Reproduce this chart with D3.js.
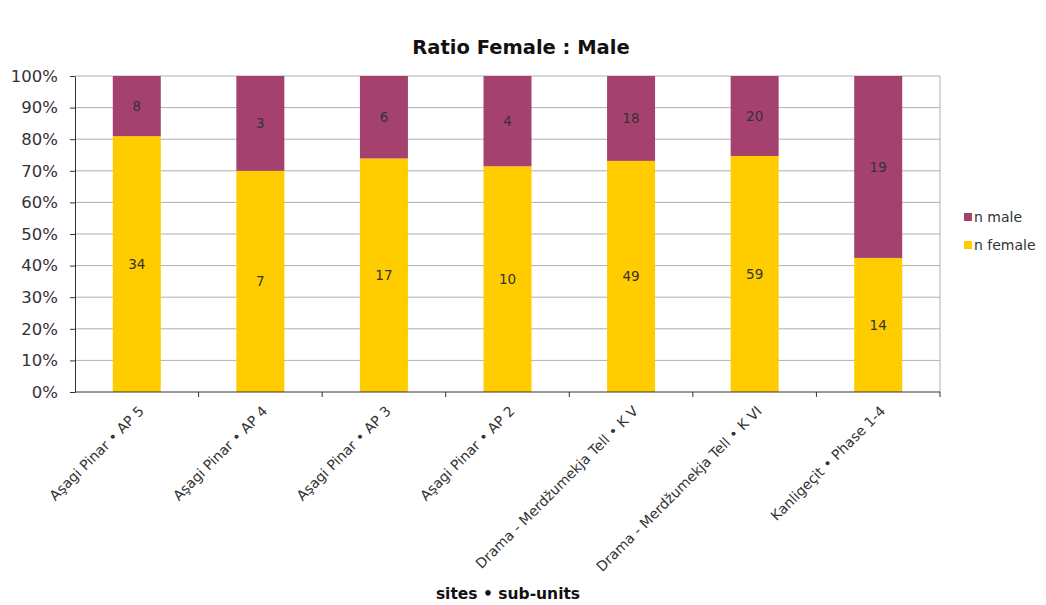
<!DOCTYPE html>
<html>
<head>
<meta charset="utf-8">
<script src="https://cdn.jsdelivr.net/npm/d3@7"></script>
<style>
  body { margin: 0; background: #fff; }
  text { font-family: "DejaVu Sans", Verdana, sans-serif; }
</style>
</head>
<body>
<svg id="chart" width="1046" height="605"></svg>
<script>
// data
const sites = ["Aşagi Pinar • AP 5", "Aşagi Pinar • AP 4", "Aşagi Pinar • AP 3", "Aşagi Pinar • AP 2",
  "Drama - Merdžumekja Tell • K V", "Drama - Merdžumekja Tell • K VI", "Kanligeçit • Phase 1-4"];
const nFemale = [34, 7, 17, 10, 49, 59, 14];
const nMale = [8, 3, 6, 4, 18, 20, 19];
const yTicks = [0, 0.1, 0.2, 0.3, 0.4, 0.5, 0.6, 0.7, 0.8, 0.9, 1];

const svg = d3.select("#chart");
const pLeft = 75, pRight = 940, pTop = 76, pBottom = 392;

let x = d3.scaleBand().domain(sites).range([pLeft, pRight]).paddingInner(0).paddingOuter(0);
let y = d3.scaleLinear().domain([0, 1]).range([pBottom, pTop]);
const barW = 48;

let rows = sites.map((s, i) => {
  let tot = nFemale[i] + nMale[i];
  return { site: s, f: nFemale[i], m: nMale[i], pf: nFemale[i] / tot };
});

// grid
svg.append("g")
  .selectAll("line")
  .data(yTicks.slice(1))
  .enter().append("line")
  .attr("x1", pLeft).attr("x2", pRight)
  .attr("y1", d => y(d)).attr("y2", d => y(d))
  .attr("stroke", "#b0b0b0").attr("stroke-width", 1);

// right border
svg.append("line")
  .attr("x1", pRight).attr("x2", pRight).attr("y1", pTop).attr("y2", pBottom)
  .attr("stroke", "#b0b0b0");

// bars
let g = svg.append("g");
g.selectAll(".fem")
  .data(rows).enter().append("rect")
  .attr("class", "fem")
  .attr("x", d => x(d.site) + x.bandwidth() / 2 - barW / 2)
  .attr("width", barW)
  .attr("y", d => y(d.pf))
  .attr("height", d => y(0) - y(d.pf))
  .attr("fill", "#ffcc00");

g.selectAll(".mal")
  .data(rows).enter().append("rect")
  .attr("class", "mal")
  .attr("x", d => x(d.site) + x.bandwidth() / 2 - barW / 2)
  .attr("width", barW)
  .attr("y", y(1))
  .attr("height", d => y(d.pf) - y(1))
  .attr("fill", "#a5416f");

// value labels
g.selectAll(".lf")
  .data(rows).enter().append("text")
  .attr("x", d => x(d.site) + x.bandwidth() / 2)
  .attr("y", d => y(d.pf / 2) + 5)
  .attr("text-anchor", "middle")
  .attr("font-size", 13.5).attr("fill", "#333")
  .text(d => d.f);

g.selectAll(".lm")
  .data(rows).enter().append("text")
  .attr("x", d => x(d.site) + x.bandwidth() / 2)
  .attr("y", d => y((1 + d.pf) / 2) + 5)
  .attr("text-anchor", "middle")
  .attr("font-size", 13.5).attr("fill", "#333")
  .text(d => d.m);

// y axis
let yAxis = svg.append("g")
  .attr("transform", `translate(${pLeft},0)`)
  .call(d3.axisLeft(y).tickValues(yTicks).tickFormat(d3.format(".0%")).tickSize(5).tickPadding(12).tickSizeOuter(0));
yAxis.select(".domain").attr("stroke", "#333");
yAxis.selectAll(".tick line").attr("stroke", "#333");
yAxis.selectAll("text").attr("font-size", 16.5).attr("fill", "#333").attr("font-family", "DejaVu Sans");

// x axis: ticks at category boundaries
let xAxis = svg.append("g").attr("transform", `translate(0,${pBottom})`);
xAxis.append("line").attr("x1", pLeft).attr("x2", pRight).attr("stroke", "#333");
xAxis.selectAll(".bt")
  .data(sites.slice(1).concat(["end"]))
  .enter().append("line")
  .attr("x1", (d, i) => i < sites.length - 1 ? x(d) : pRight)
  .attr("x2", (d, i) => i < sites.length - 1 ? x(d) : pRight)
  .attr("y1", 0).attr("y2", 5)
  .attr("stroke", "#333");

xAxis.selectAll(".xl")
  .data(sites).enter().append("text")
  .attr("transform", d => `translate(${x(d) + x.bandwidth() / 2 + 8},${20}) rotate(-45)`)
  .attr("text-anchor", "end")
  .attr("font-size", 14).attr("fill", "#333")
  .text(d => d);

// titles
svg.append("text")
  .attr("x", 521).attr("y", 54)
  .attr("text-anchor", "middle")
  .attr("font-size", 19.5).attr("font-weight", "bold").attr("fill", "#111")
  .text("Ratio Female : Male");

svg.append("text")
  .attr("x", 508).attr("y", 599)
  .attr("text-anchor", "middle")
  .attr("font-size", 15.5).attr("font-weight", "bold").attr("fill", "#111")
  .text("sites • sub-units");

// legend
let legend = [["n male", "#a5416f"], ["n female", "#ffcc00"]];
let lg = svg.append("g").attr("transform", "translate(964,218)");
lg.selectAll("rect").data(legend).enter().append("rect")
  .attr("x", 0).attr("y", (d, i) => i * 28 - 5)
  .attr("width", 8).attr("height", 8)
  .attr("fill", d => d[1]);
lg.selectAll("text").data(legend).enter().append("text")
  .attr("x", 10).attr("y", (d, i) => i * 28 + 4)
  .attr("font-size", 14).attr("fill", "#333")
  .text(d => d[0]);
</script>
</body>
</html>
